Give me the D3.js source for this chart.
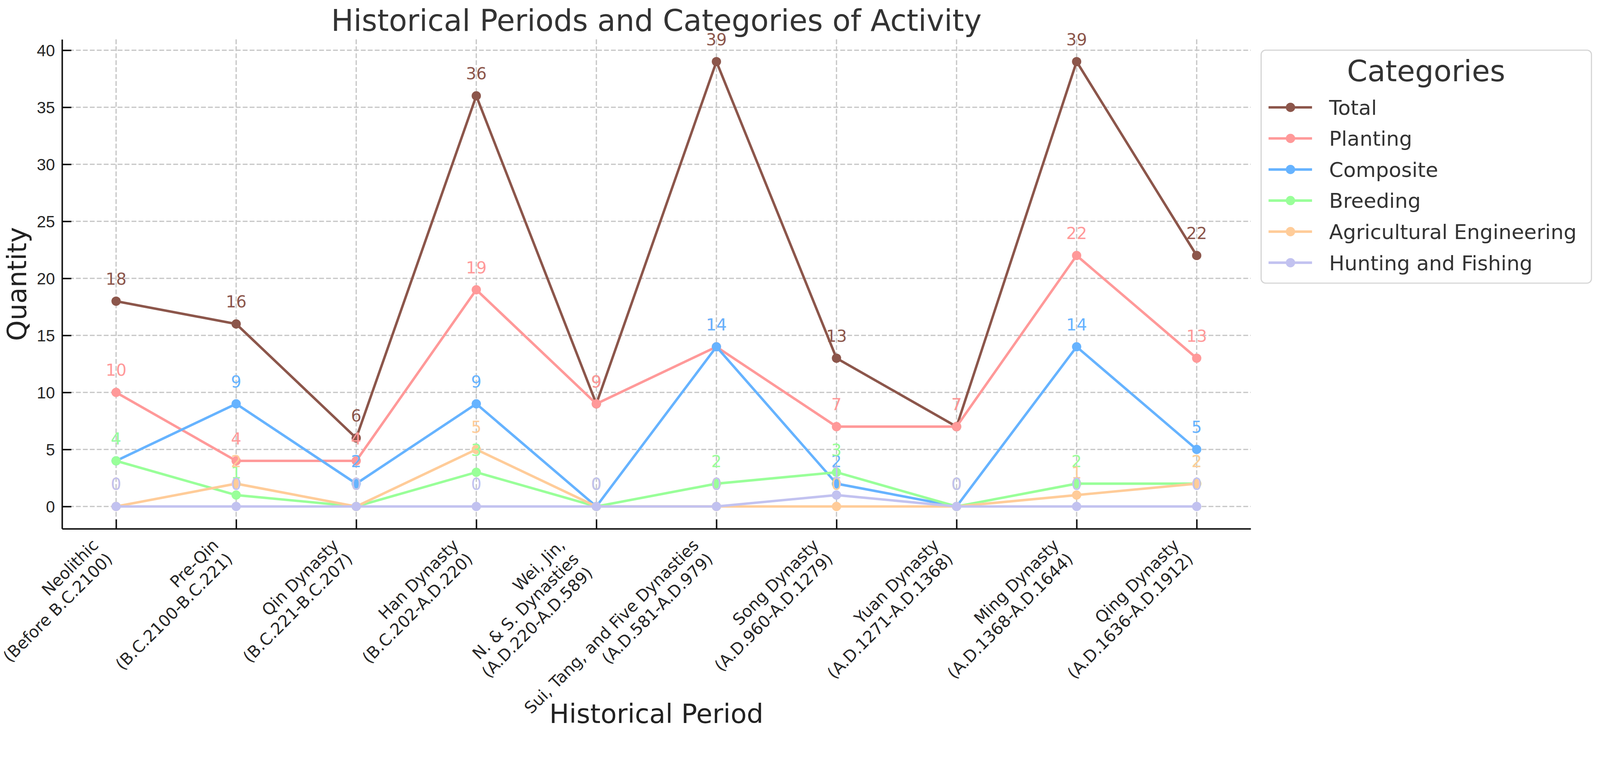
<!DOCTYPE html>
<html lang="en">
<head>
<meta charset="UTF-8">
<title>Historical Periods and Categories of Activity</title>
<script src="https://d3js.org/d3.v7.min.js"></script>
<style>
  html, body { margin: 0; padding: 0; background: #fff; overflow: hidden; }
  svg { display: block; width: 100vw; height: calc(100vw * 1979 / 4306); background: #fff; font-family: "DejaVu Sans", sans-serif; }
  .grid line { stroke: #c8c8c8; stroke-width: 3.5; stroke-dasharray: 13 5.7; }
  .axis path, .axis line { stroke: #111; stroke-width: 4; }
  .axis text { font-size: 44px; fill: #262626; }
</style>
</head>
<body>
<svg id="chart"></svg>
<script>
// periods along the x axis, one array of text lines each
const periodLabels = [
  ["Neolithic", "(Before B.C.2100)"],
  ["Pre-Qin", "(B.C.2100-B.C.221)"],
  ["Qin Dynasty", "(B.C.221-B.C.207)"],
  ["Han Dynasty", "(B.C.202-A.D.220)"],
  ["Wei, Jin,", "N. & S. Dynasties", "(A.D.220-A.D.589)"],
  ["Sui, Tang, and Five Dynasties", "(A.D.581-A.D.979)"],
  ["Song Dynasty", "(A.D.960-A.D.1279)"],
  ["Yuan Dynasty", "(A.D.1271-A.D.1368)"],
  ["Ming Dynasty", "(A.D.1368-A.D.1644)"],
  ["Qing Dynasty", "(A.D.1636-A.D.1912)"]
];

const seriesNames = ["Total", "Planting", "Composite", "Breeding", "Agricultural Engineering", "Hunting and Fishing"];
const seriesColors = ["#8c564b", "#ff9999", "#66b3ff", "#99ff99", "#ffcc99", "#c2c2f0"];

const total       = [18, 16, 6, 36, 9, 39, 13, 7, 39, 22];
const planting    = [10, 4, 4, 19, 9, 14, 7, 7, 22, 13];
const composite   = [4, 9, 2, 9, 0, 14, 2, 0, 14, 5];
const breeding    = [4, 1, 0, 3, 0, 2, 3, 0, 2, 2];
const agriEng     = [0, 2, 0, 5, 0, 0, 0, 0, 1, 2];
const huntFish    = [0, 0, 0, 0, 0, 0, 1, 0, 0, 0];

const yTicks = [0, 5, 10, 15, 20, 25, 30, 35, 40];

const series = [total, planting, composite, breeding, agriEng, huntFish].map((values, k) => ({
  name: seriesNames[k], color: seriesColors[k], values
}));

const W = 4306, H = 1979;
const plot = { left: 167, right: 3366, top: 106, bottom: 1423 };

// fixed drawing coordinates, scaled to the page width
const svg = d3.select("#chart").attr("viewBox", [0, 0, W, H]);

const x = d3.scaleLinear().domain([-0.45, periodLabels.length - 1 + 0.45]).range([plot.left, plot.right]);
const y = d3.scaleLinear().domain([-1.95, 40.95]).range([plot.bottom, plot.top]);

// grid
const grid = svg.append("g").attr("class", "grid");
grid.selectAll(".gy").data(yTicks).join("line")
  .attr("x1", plot.left).attr("x2", plot.right)
  .attr("y1", d => y(d)).attr("y2", d => y(d));
grid.selectAll(".gx").data(d3.range(periodLabels.length)).join("line")
  .attr("x1", d => x(d)).attr("x2", d => x(d))
  .attr("y1", plot.top).attr("y2", plot.bottom);

// axes, ticks pointing inwards
const yAxis = svg.append("g").attr("class", "axis")
  .attr("transform", `translate(${plot.left},0)`)
  .call(d3.axisLeft(y).tickValues(yTicks).tickSizeInner(-25).tickSizeOuter(0).tickPadding(19));
yAxis.selectAll("text").attr("dy", "0.36em");

const xAxis = svg.append("g").attr("class", "axis")
  .attr("transform", `translate(0,${plot.bottom})`)
  .call(d3.axisBottom(x).tickValues(d3.range(periodLabels.length)).tickSizeInner(-25).tickSizeOuter(0).tickFormat(""));
xAxis.selectAll("text").remove();

// rotated multi-line tick labels, right aligned, bbox top-right at the tick
const labelTop = plot.bottom + 18;
const lineH = 44 * 1.2;
periodLabels.forEach((lines, i) => {
  const g = svg.append("g");
  const t = g.append("text")
    .attr("text-anchor", "end")
    .attr("font-size", 44)
    .attr("fill", "#262626")
    .attr("transform", "rotate(-45)");
  lines.forEach((ln, j) => {
    t.append("tspan").attr("x", 0).attr("y", j * lineH).text(ln);
  });
  const b = t.node().getBBox();
  const c = Math.SQRT1_2;
  const corners = [[b.x, b.y], [b.x + b.width, b.y], [b.x, b.y + b.height], [b.x + b.width, b.y + b.height]]
    .map(([px, py]) => [px * c + py * c, -px * c + py * c]);
  const maxX = d3.max(corners, p => p[0]);
  const minY = d3.min(corners, p => p[1]);
  g.attr("transform", `translate(${x(i) - maxX},${labelTop - minY})`);
});

// lines and markers
const line = d3.line().x((d, i) => x(i)).y(d => y(d));
series.forEach(s => {
  const g = svg.append("g");
  g.append("path")
    .attr("d", line(s.values))
    .attr("fill", "none")
    .attr("stroke", s.color)
    .attr("stroke-width", 6.7)
    .attr("stroke-linejoin", "round");
  g.selectAll("circle").data(s.values).join("circle")
    .attr("cx", (d, i) => x(i))
    .attr("cy", d => y(d))
    .attr("r", 12.5)
    .attr("fill", s.color);
});

// value labels
series.forEach(s => {
  svg.append("g").selectAll("text").data(s.values).join("text")
    .attr("x", (d, i) => x(i))
    .attr("y", d => y(d) - 44.4)
    .attr("text-anchor", "middle")
    .attr("font-size", 44)
    .attr("fill", s.color)
    .text(d => d);
});

// titles
svg.append("text")
  .attr("x", (plot.left + plot.right) / 2).attr("y", 83)
  .attr("text-anchor", "middle").attr("font-size", 80).attr("fill", "#333")
  .text("Historical Periods and Categories of Activity");

svg.append("text")
  .attr("x", (plot.left + plot.right) / 2).attr("y", 1946)
  .attr("text-anchor", "middle").attr("font-size", 71).attr("fill", "#222")
  .text("Historical Period");

svg.append("text")
  .attr("transform", `translate(70,${(plot.top + plot.bottom) / 2}) rotate(-90)`)
  .attr("text-anchor", "middle").attr("font-size", 71).attr("fill", "#222")
  .text("Quantity");

// legend
const legend = svg.append("g");
legend.append("rect")
  .attr("x", 3394).attr("y", 135).attr("width", 889).attr("height", 627)
  .attr("rx", 12).attr("fill", "#fff").attr("stroke", "#d4d4d4").attr("stroke-width", 3);
legend.append("text")
  .attr("x", 3838).attr("y", 219)
  .attr("text-anchor", "middle").attr("font-size", 79).attr("fill", "#333")
  .text("Categories");
series.forEach((s, k) => {
  const by = 309 + k * 83.6;
  const ly = by - 20;
  legend.append("line")
    .attr("x1", 3414).attr("x2", 3531).attr("y1", ly).attr("y2", ly)
    .attr("stroke", s.color).attr("stroke-width", 6.7);
  legend.append("circle").attr("cx", 3473).attr("cy", ly).attr("r", 12.5).attr("fill", s.color);
  legend.append("text")
    .attr("x", 3577).attr("y", by)
    .attr("font-size", 55).attr("fill", "#333")
    .text(s.name);
});
</script>
</body>
</html>
